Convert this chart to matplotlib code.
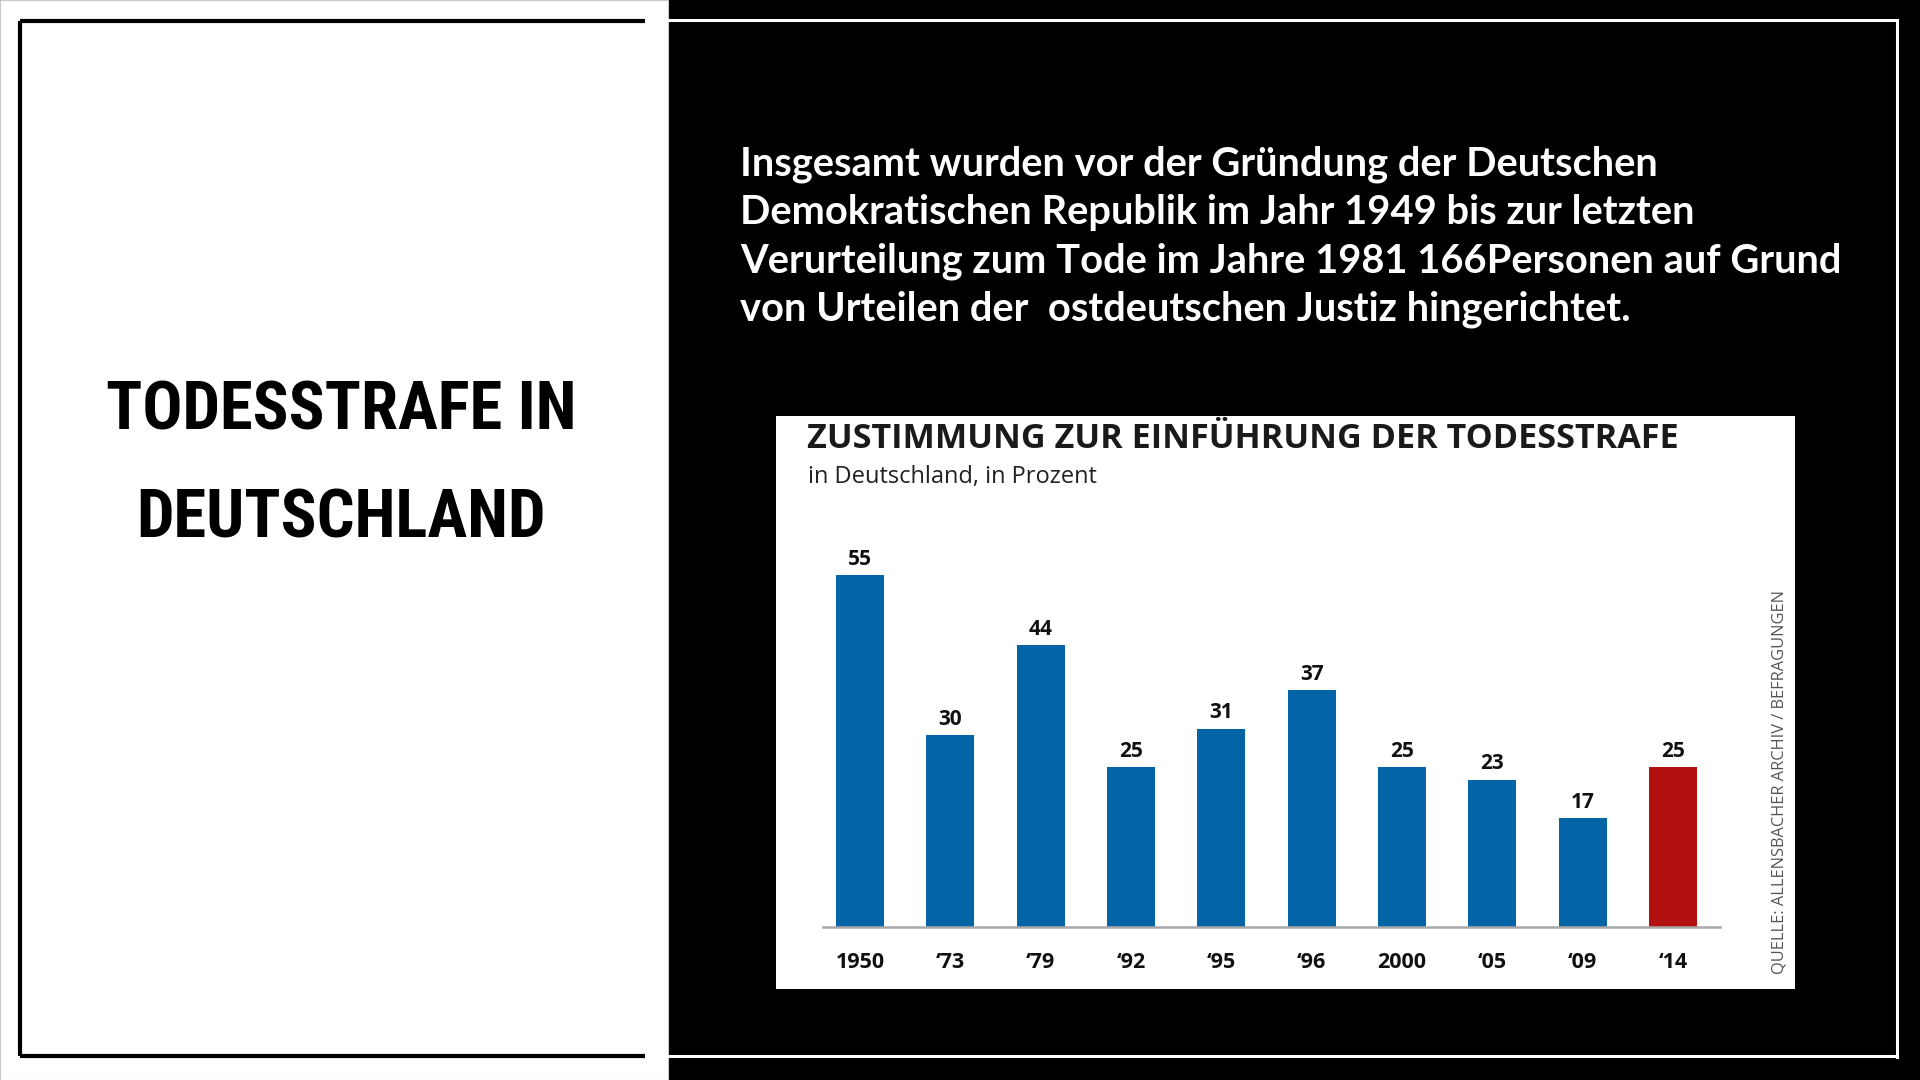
import matplotlib
matplotlib.use("Agg")
import matplotlib.pyplot as plt
from matplotlib.lines import Line2D
from matplotlib.patches import Rectangle
from matplotlib import font_manager as fm

# ---------------- data ----------------
categories = ["1950", "\u201873", "\u201879", "\u201892", "\u201895", "\u201896", "2000", "\u201805", "\u201809", "\u201814"]
values = [55, 30, 44, 25, 31, 37, 25, 23, 17, 25]
highlight = [False, False, False, False, False, False, False, False, False, True]

title_left = ["TODESSTRAFE IN", "DEUTSCHLAND"]
paragraph_lines = [
    "Insgesamt wurden vor der Gr\u00fcndung der Deutschen",
    "Demokratischen Republik im Jahr 1949 bis zur letzten",
    "Verurteilung zum Tode im Jahre 1981 166Personen auf Grund",
    "von Urteilen der  ostdeutschen Justiz hingerichtet.",
]
chart_title = "ZUSTIMMUNG ZUR EINF\u00dcHRUNG DER TODESSTRAFE"
chart_subtitle = "in Deutschland, in Prozent"
source_text = "QUELLE: ALLENSBACHER ARCHIV / BEFRAGUNGEN"


def pick(cands):
    for c in cands:
        try:
            fm.findfont(fm.FontProperties(family=c), fallback_to_default=False)
            return c
        except Exception:
            pass
    return "DejaVu Sans"


narrow = pick(["Roboto Condensed", "Liberation Sans Narrow", "DejaVu Sans Condensed", "Liberation Sans"])
para_font = pick(["Lato", "Open Sans", "DejaVu Sans"])
chart_font = pick(["Open Sans", "Noto Sans", "DejaVu Sans"])

W, H = 1920, 1080
fig = plt.figure(figsize=(19.2, 10.8), dpi=100, facecolor="black")


def fx(x):
    return x / W


def fy(y):
    return 1 - y / H


# left white panel
fig.add_artist(Rectangle((0, 0), fx(668), 1, transform=fig.transFigure,
                         facecolor="white", edgecolor="#c8c8c8", lw=0.8, zorder=0))

# black frame on white panel
for xs, ys in [([20, 20], [21, 1056]), ([20, 645], [21, 21]), ([20, 645], [1056, 1056])]:
    fig.add_artist(Line2D([fx(v) for v in xs], [fy(v) for v in ys], transform=fig.transFigure,
                          color="black", lw=3.0, solid_capstyle="butt", zorder=2))
# white frame on black panel
for xs, ys in [([645, 1897], [20, 20]), ([1897, 1897], [20, 1057]), ([645, 1897], [1056, 1056])]:
    fig.add_artist(Line2D([fx(v) for v in xs], [fy(v) for v in ys], transform=fig.transFigure,
                          color="white", lw=2.2, solid_capstyle="projecting", zorder=1))

# left title
for line, yy in zip(title_left, [412, 519]):
    fig.text(fx(341), fy(yy), line, ha="center", va="center", fontsize=48,
             fontweight="black", family=narrow, color="black")

# paragraph
for i, line in enumerate(paragraph_lines):
    fig.text(fx(740), fy(164 + i * 48.5), line, ha="left", va="center", fontsize=28.7,
             fontweight="bold", family=para_font, color="white")

# chart white box
fig.add_artist(Rectangle((fx(776), fy(989)), fx(1795) - fx(776), fy(416) - fy(989),
                         transform=fig.transFigure, facecolor="white", edgecolor="none", zorder=1))

fig.text(fx(807), fy(439), chart_title, ha="left", va="center", fontsize=24.6,
         fontweight="bold", family=chart_font, color="#1a1a1a", zorder=3)
fig.text(fx(808), fy(477), chart_subtitle, ha="left", va="center", fontsize=17,
         family=chart_font, color="#222222", zorder=3)
fig.text(fx(1779), fy(782), source_text, ha="center", va="center", rotation=90,
         fontsize=11.8, family=chart_font, color="#555555", zorder=3)

# bars
ax = fig.add_axes([fx(823), fy(927), (1720 - 823) / W, (927 - 543) / H])
ax.set_zorder(5)
ax.set_facecolor("none")
x = list(range(len(values)))
colors = ["#b3110f" if h else "#0465a6" for h in highlight]
ax.bar(x, values, width=0.53, color=colors, zorder=2)
ax.set_xlim(-0.41, 9.52)
ax.set_ylim(0, 60)
for s in ["top", "right", "left"]:
    ax.spines[s].set_visible(False)
ax.spines["bottom"].set_color("#a8a8a8")
ax.spines["bottom"].set_linewidth(1.8)
ax.set_yticks([])
ax.set_xticks(x, categories)
ax.tick_params(axis="x", length=0, pad=18)
for lbl in ax.get_xticklabels():
    lbl.set_fontweight("bold")
    lbl.set_fontsize(15.5)
    lbl.set_family(chart_font)
    lbl.set_color("#111111")
for xi, v in zip(x, values):
    ax.annotate(str(v), (xi, v), xytext=(0, 7.5), textcoords="offset points",
                ha="center", va="baseline", fontsize=15, fontweight="bold",
                family=chart_font, color="#111111")

fig.savefig("out.png", dpi=100, facecolor="black")
